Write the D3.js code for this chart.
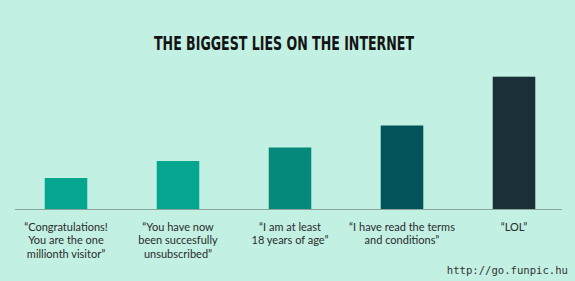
<!DOCTYPE html>
<html>
<head>
<meta charset="utf-8">
<script src="https://cdn.jsdelivr.net/npm/d3@7"></script>
<style>
html,body{margin:0;padding:0;background:#c2f0e3;}
svg{display:block;}
</style>
</head>
<body>
<svg id="chart" width="575" height="281"></svg>
<script>
const title = "THE BIGGEST LIES ON THE INTERNET";
const categories = ["congrats", "unsubscribed", "age", "terms", "lol"];
const labelLines = [
  ["“Congratulations!", "You are the one", "millionth visitor”"],
  ["“You have now", "been succesfully", "unsubscribed”"],
  ["“I am at least", "18 years of age”"],
  ["“I have read the terms", "and conditions”"],
  ["“LOL”"]
];
const values = [31, 48, 61.5, 83.5, 132.3];
const barColors = ["#05a68f", "#05a68f", "#06887b", "#03545a", "#1b2f38"];
const watermark = "http://go.funpic.hu";

const W = 575, H = 281;
const svg = d3.select("#chart");
svg.append("rect").attr("width", W).attr("height", H).attr("fill", "#c2f0e3");

const x = d3.scaleBand().domain(categories).range([10, 570])
  .paddingInner(0.62).paddingOuter(0.31);
const y = d3.scaleLinear().domain([0, 132.3]).range([209, 76.7]);

svg.append("text")
  .attr("x", 284).attr("y", 50)
  .attr("text-anchor", "middle")
  .attr("font-family", "'Liberation Sans Narrow','DejaVu Sans Condensed',sans-serif")
  .attr("font-weight", "bold")
  .attr("font-size", 19.5)
  .attr("fill", "#141414")
  .attr("textLength", 260)
  .attr("lengthAdjust", "spacingAndGlyphs")
  .text(title);

svg.append("g").selectAll("rect")
  .data(categories)
  .join("rect")
  .attr("x", d => x(d))
  .attr("width", x.bandwidth())
  .attr("y", (d, i) => y(values[i]))
  .attr("height", (d, i) => y(0) - y(values[i]))
  .attr("fill", (d, i) => barColors[i]);

svg.append("line")
  .attr("x1", 15).attr("x2", 562)
  .attr("y1", y(0) + 0.5).attr("y2", y(0) + 0.5)
  .attr("stroke", "#8aa69c").attr("stroke-width", 1.2);

const lab = svg.append("g").selectAll("text")
  .data(categories)
  .join("text")
  .attr("text-anchor", "middle")
  .attr("font-family", "Lato, 'Open Sans', sans-serif")
  .attr("font-size", 11)
  .attr("fill", "#2b2b2b")
  .attr("transform", d => `translate(${x(d) + x.bandwidth() / 2},231)`);
lab.selectAll("tspan")
  .data((d, i) => labelLines[i])
  .join("tspan")
  .attr("x", 0)
  .attr("dy", (d, i) => i === 0 ? 0 : 13.3)
  .text(d => d);

svg.append("text")
  .attr("x", 568).attr("y", 274)
  .attr("text-anchor", "end")
  .attr("font-family", "'DejaVu Sans Mono', monospace")
  .attr("font-size", 10.6)
  .attr("fill", "#333")
  .text(watermark);
</script>
</body>
</html>
